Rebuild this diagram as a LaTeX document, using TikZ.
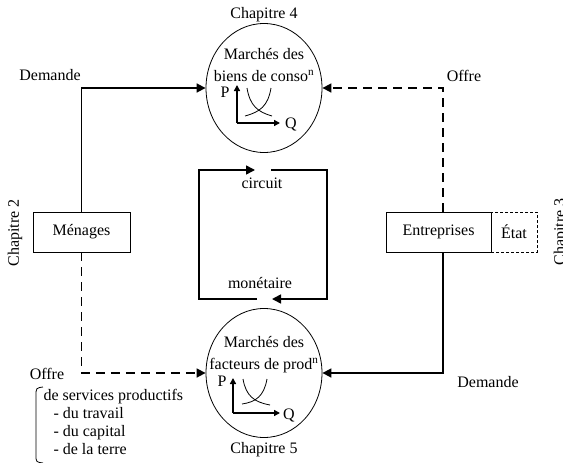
\documentclass[tikz,border=0pt]{standalone}
\usepackage{fontspec}
\setmainfont{Liberation Serif}
\usetikzlibrary{shapes.geometric,arrows.meta,positioning}

\begin{document}
\begin{tikzpicture}[x=1pt,y=-1pt,font=\fontsize{16}{22}\selectfont,
  flux/.style={line width=1.6pt,-{Triangle[length=9pt,width=9pt]}},
  fluxdash/.style={flux,dash pattern=on 9pt off 6pt},
  marche/.style={ellipse,draw,line width=0.8pt,minimum width=116pt,minimum height=129pt},
  agent/.style={rectangle,draw,line width=0.8pt,minimum height=40pt},
  axe/.style={line width=1.4pt,-{Triangle[length=6pt,width=6pt]}},
  courbe/.style={line width=0.8pt}]
  \useasboundingbox (0,0) rectangle (563,463);

  % marches
  \node[marche] (biens) at (264,88) {};
  \node[marche] (facteurs) at (264,373) {};
  \node[align=center] (tbiens) at (264,65) {Marchés des\\biens de conso\textsuperscript{n}};
  \node[align=center] (tfact) at (264,355) {Marchés des\\facteurs de prod\textsuperscript{n}};
  \node (ch4) at (264,15) {Chapitre 4};
  \node (ch5) at (264,450) {Chapitre 5};

  % agents
  \node[agent,minimum width=97pt] (menages) at (81.5,232) {Ménages};
  \node[agent,minimum width=105pt] (entr) at (438.5,232) {Entreprises};
  \node[draw,line width=0.6pt,dash pattern=on 3pt off 2pt,minimum width=46pt,minimum height=40pt] (etat) at (514,232) {État};
  \node[rotate=90] (ch2) at (15,233) {Chapitre 2};
  \node[rotate=90] (ch3) at (561,232) {Chapitre 3};

  % flux reels
  \draw[flux] (menages.north) |- (biens.west);
  \draw[fluxdash] ([xshift=4.5pt]entr.north) |- (biens.east);
  \draw[fluxdash] (menages.south) |- (facteurs.west);
  \draw[flux] ([xshift=4.5pt]entr.south) |- (facteurs.east);
  \node (dem1) at (50,75) {Demande};
  \node (off1) at (464,76) {Offre};
  \node (dem2) at (488,382) {Demande};
  \node (off2) at (47,374) {Offre};
  \node[align=left,anchor=north west,font=\fontsize{16}{18}\selectfont] (serv) at (40,386)
    {de services productifs\\\hspace{10pt}- du travail\\\hspace{10pt}- du capital\\\hspace{10pt}- de la terre};
  \draw[line width=0.8pt] (43,387) .. controls (36,388) .. (36,396) -- (36,455) .. controls (36,462) .. (43,463);

  % circuit monetaire
  \draw[flux] (257,299) -| (199,170) -- (255,170);
  \draw[flux] (271,170) -| (327,299) -- (272,299);
  \node (circ) at (262,183) {circuit};
  \node (mon) at (260,283) {monétaire};

  % petits graphes
  \draw[axe] (237,123) -- (237,85);
  \draw[axe] (237,123) -- (280,123);
  \node (p1) at (225,92) {P};
  \node (q1) at (291,124) {Q};
  \draw[courbe] (247,88) .. controls (250,106) and (258,112) .. (272,116);
  \draw[courbe] (271,88) .. controls (268,106) and (260,112) .. (245,116);
  \draw[axe] (233,413) -- (233,378);
  \draw[axe] (233,413) -- (280,413);
  \node (p2) at (222,381) {P};
  \node (q2) at (289,415) {Q};
  \draw[courbe] (243,379) .. controls (246,396) and (254,402) .. (270,405);
  \draw[courbe] (267,379) .. controls (264,396) and (256,402) .. (242,404);
\end{tikzpicture}
\end{document}
